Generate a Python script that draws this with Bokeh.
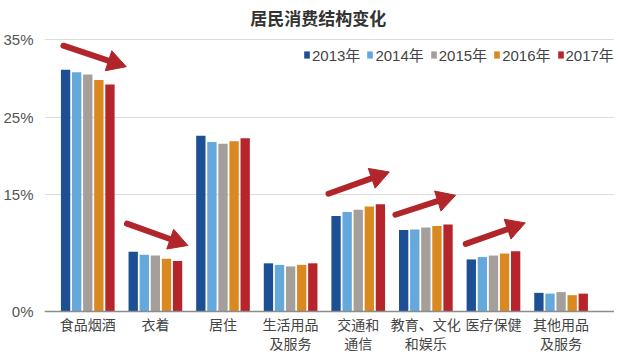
import math
from bokeh.plotting import figure
from bokeh.models import (FixedTicker, Range1d, Legend, LegendItem, ColumnDataSource, Span)
from bokeh.core.properties import value
from bokeh.embed import file_html
from bokeh.resources import INLINE

# ---------------- data ----------------
title = "居民消费结构变化"
categories = ["食品烟酒", "衣着", "居住", "生活用品\n及服务", "交通和\n通信",
              "教育、文化\n和娱乐", "医疗保健", "其他用品\n及服务"]
years = ["2013年", "2014年", "2015年", "2016年", "2017年"]
v2013 = [31.1, 7.7, 22.6, 6.2, 12.3, 10.5, 6.7, 2.4]
v2014 = [30.8, 7.3, 21.8, 6.0, 12.8, 10.55, 7.0, 2.3]
v2015 = [30.5, 7.2, 21.6, 5.8, 13.1, 10.8, 7.2, 2.5]
v2016 = [29.8, 6.8, 21.9, 6.0, 13.5, 11.0, 7.45, 2.1]
v2017 = [29.2, 6.5, 22.3, 6.2, 13.8, 11.2, 7.75, 2.3]
series = [v2013, v2014, v2015, v2016, v2017]
colors = ["#1c4f93", "#64a8dc", "#a59f9c", "#d9891f", "#b6252b"]
y_ticks = [0, 15, 25, 35]
# trend arrows: (x_start, y_start, x_end, y_end) in data units
trend_arrows = [(-0.36, 34.2, 0.57, 31.5),
                (0.58, 11.3, 1.48, 8.5),
                (3.56, 15.15, 4.46, 17.95),
                (4.55, 12.45, 5.44, 14.95),
                (5.59, 8.7, 6.47, 11.4)]

FONT = "Liberation Sans, Noto Sans CJK SC"
CJK = "Noto Sans CJK SC"

W, H = 614, 355
BL = 35
TOP = 39                             # px from figure top to the 35% line
PX_PER_UNIT = 272 / 35.0             # vertical scale: 35% spans 272 px
Y1 = 35 + TOP / PX_PER_UNIT
Y0 = Y1 - H / PX_PER_UNIT
X0, X1 = -0.64, 7.79

p = figure(width=W, height=H, output_backend="svg", toolbar_location=None,
           x_range=Range1d(X0, X1), y_range=Range1d(Y0, Y1), x_axis_location=None,
           min_border_left=BL, min_border_right=0, min_border_top=0, min_border_bottom=0)
p.outline_line_color = None

# y axis / grid
p.yaxis.ticker = FixedTicker(ticks=y_ticks)
p.yaxis.major_label_overrides = {t: f"{t}%" for t in y_ticks}
p.yaxis.axis_line_color = None
p.yaxis.major_tick_line_color = None
p.yaxis.minor_tick_line_color = None
p.yaxis.major_label_text_font = FONT
p.yaxis.major_label_text_font_size = "15px"
p.yaxis.major_label_text_color = "#555555"
p.yaxis.major_label_standoff = 5
p.xgrid.grid_line_color = None
p.ygrid.grid_line_color = "#dcdcdc"
p.ygrid.grid_line_width = 1

# bars
pitch = 0.164
bw = 0.138
items = []
for k, (yr, vals, col) in enumerate(zip(years, series, colors)):
    xs = [i + (k - 2) * pitch for i in range(len(categories))]
    src = ColumnDataSource(dict(x=xs, top=vals))
    r = p.vbar(x="x", top="top", width=bw, bottom=0, source=src,
               fill_color=col, line_color=None)
    items.append(LegendItem(label=yr, renderers=[r]))

# baseline (category axis line)
p.add_layout(Span(location=0, dimension="width", line_color="#8c8c8c", line_width=1.5))

# category labels (two lines where needed)
lx, ly, lt = [], [], []
for i, c in enumerate(categories):
    for j, part in enumerate(c.split("\n")):
        lx.append(i)
        ly.append(-12.5 / PX_PER_UNIT - j * 19 / PX_PER_UNIT)
        lt.append(part)
p.text(x=lx, y=ly, text=lt, text_font=value(CJK), text_font_size="14px",
       text_color="#444444", text_align="center", text_baseline="middle")

# title
sx = (W - BL) / (X1 - X0)
title_x = X0 + (321 - 43) / sx
p.text(x=[title_x], y=[35 + 22 / PX_PER_UNIT], text=[title], text_font=value(CJK),
       text_font_size="17px", text_font_style="bold", text_color="#333333",
       text_align="center", text_baseline="middle")

legend = Legend(items=items, orientation="horizontal", location=(259, H - 65),
                glyph_width=7, glyph_height=9, label_standoff=2, spacing=6,
                padding=0, margin=0, border_line_color=None, background_fill_alpha=0,
                label_text_font=FONT, label_text_font_size="15px",
                label_text_color="#444444", label_height=17)
p.add_layout(legend)

# trend arrows: shaft + triangular head, built in pixel space then mapped back
sy = PX_PER_UNIT
arrow_col = "#b1262b"
HL, HW = 19, 10.5
hx, hy, sx0, sy0, sx1, sy1 = [], [], [], [], [], []
for (xa, ya, xb, yb) in trend_arrows:
    dx, dy = (xb - xa) * sx, (yb - ya) * sy
    L = math.hypot(dx, dy)
    ux, uy = dx / L, dy / L
    nx, ny = -uy, ux
    bx, by = xb * sx - HL * ux, yb * sy - HL * uy
    hx.append([xb, (bx + HW * nx) / sx, (bx - HW * nx) / sx])
    hy.append([yb, (by + HW * ny) / sy, (by - HW * ny) / sy])
    sx0.append(xa); sy0.append(ya)
    sx1.append((bx + 2 * ux) / sx); sy1.append((by + 2 * uy) / sy)
p.segment(x0=sx0, y0=sy0, x1=sx1, y1=sy1, line_color=arrow_col, line_width=6,
          line_cap="round")
p.patches(xs=hx, ys=hy, fill_color=arrow_col, line_color=arrow_col, line_width=1)

open("out.html", "w").write(file_html(p, INLINE))
